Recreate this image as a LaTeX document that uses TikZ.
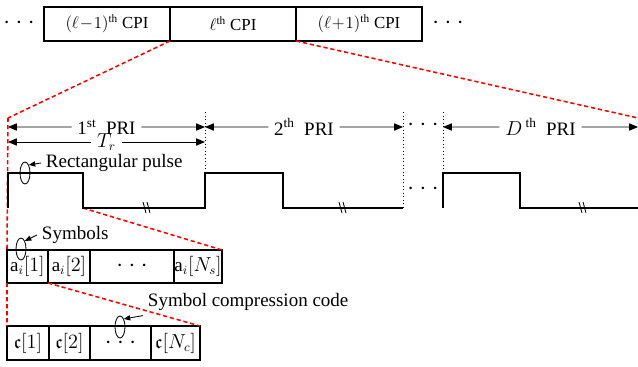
\documentclass[tikz,border=0pt]{standalone}
\usepackage{amsmath,amssymb}
\usepackage{fontspec}
\setmainfont{Liberation Serif}
\usepackage{tikz}
\usetikzlibrary{positioning,calc}
\usetikzlibrary{arrows.meta,shapes.geometric}
\newcommand{\dotrow}{{\fontsize{16}{16}\selectfont$\cdot$\hspace{4pt}$\cdot$\hspace{4pt}$\cdot$}}
\tikzset{
	cpibox/.style={draw=black,line width=1.2pt,outer sep=0pt,minimum width=3.15cm,minimum height=0.85cm,inner sep=0pt,font=\fontsize{12}{14}\selectfont},
	cell/.style={draw=black,line width=1.2pt,outer sep=0pt,inner sep=0pt},
	wave/.style={draw=black,line width=1.4pt},
	zoomline/.style={draw=red,line width=1.1pt,dash pattern=on 3pt off 2pt},
	halfspan/.style={draw=black,line width=0.6pt,-{Triangle[length=2.2mm,width=1.8mm]}},
	spanlbl/.style={inner xsep=4pt,inner ysep=0pt},
	guide/.style={draw=black,line width=0.5pt,dotted},
	ring/.style={ellipse,draw=black,line width=0.6pt,minimum width=0.25cm,minimum height=0.55cm,inner sep=0pt},
	pointer/.style={draw=black,line width=0.6pt,-{Triangle[length=1.6mm,width=1.3mm]}},
}

\begin{document}
\begin{tikzpicture}[x=0.025cm,y=-0.025cm,font=\fontsize{13.5}{15}\selectfont]
	\useasboundingbox (0,0) rectangle (638,367);
	\node[cpibox] (cpiA) at (107,24) {$(\ell\!-\!1)^{\mathrm{th}}$ CPI};
	\node[cpibox] (cpiB) at (233,24) {$\ell^{\mathrm{th}}$ CPI};
	\node[cpibox] (cpiC) at (359,24) {$(\ell\!+\!1)^{\mathrm{th}}$ CPI};
	\node (dotsL) at (19,23) {\dotrow};
	\node (dotsR) at (448,23) {\dotrow};
	\coordinate (s0) at (8,118);
	\coordinate (e0) at (638,118);
	\foreach \n/\x in {p0/8,p1/205,p2/403,p3/443,p4/638}
	\coordinate (\n) at (\x,127);
	\coordinate (t0) at (8,142);
	\coordinate (t1) at (205,142);
	\coordinate (fall1) at (83,208);
	\node[spanlbl] (priA) at ($(p0)!0.5!(p1)$) {1\textsuperscript{st}\ \ PRI};
	\node[spanlbl] (priB) at ($(p1)!0.5!(p2)$) {2\textsuperscript{th}\ \ PRI};
	\node[spanlbl] (priD) at ($(p3)!0.5!(p4)$) {$D$\,\textsuperscript{th}\ \ PRI};
	\node[spanlbl] (tr) at ($(t0)!0.5!(t1)$) {$T_r$};
	\foreach \l/\a/\b in {priA/p0/p1,priB/p1/p2,priD/p3/p4,tr/t0/t1}{
		\draw[halfspan] (\l) -- (\a);
		\draw[halfspan] (\l) -- (\b);
	}
	\node (dotsP) at (423,125) {\dotrow};
	\node (dotsW) at (423,189) {\dotrow};
	\foreach \x/\y in {205/173,403/208,443/173}
	\draw[guide] (\x,112) -- (\x,\y);
	\node[cell,minimum width=1.025cm,minimum height=0.825cm] (symA) at (27.5,266.5) {$\mathrm{a}_i[1]$};
	\node[cell,minimum width=1.05cm,minimum height=0.825cm,right=0pt of symA] (symB) {$\mathrm{a}_i[2]$};
	\node[cell,minimum width=2.1cm,minimum height=0.825cm,right=0pt of symB] (symC) {\dotrow};
	\node[cell,minimum width=1.2cm,minimum height=0.825cm,right=0pt of symC] (symD) {$\mathrm{a}_i[N_s]$};
	\node[cell,minimum width=1.05cm,minimum height=0.85cm] (cA) at (28,343) {$\mathfrak{c}[1]$};
	\node[cell,minimum width=1.025cm,minimum height=0.85cm,right=0pt of cA] (cB) {$\mathfrak{c}[2]$};
	\node[cell,minimum width=1.525cm,minimum height=0.85cm,right=0pt of cB] (cC) {\dotrow};
	\node[cell,minimum width=1.225cm,minimum height=0.85cm,right=0pt of cC] (cD) {$\mathfrak{c}[N_c]$};
	\draw[zoomline] (cpiB.south west) -- (s0);
	\draw[zoomline] (cpiB.south east) -- (e0);
	\draw[zoomline] (s0) -- (symA.north west);
	\draw[zoomline] (fall1) -- (symD.north east);
	\draw[zoomline] (symA.south west) -- (cA.north west);
	\draw[zoomline] (symA.south east) -- (cD.north east);
	\draw[wave] (8,208) -- (8,173) -- (83,173) -- (fall1) -- (205,208) -- (205,173) -- (283,173) -- (283,208) -- (403,208);
	\draw[wave] (443,208) -- (443,173) -- (520,173) -- (520,208) -- (638,208);
	\foreach \x in {147,343,583}{
		\draw[line width=0.6pt] (\x-4,202) -- (\x-1,213);
		\draw[line width=0.6pt] (\x,202) -- (\x+3,213);
	}
	\node[ring] (pulsering) at (25,173) {};
	\node[anchor=west] (pulselbl) at (41,163) {Rectangular pulse};
	\draw[pointer] (pulselbl.west) -- (pulsering.north east);
	\node[ring] (symring) at (21,249) {};
	\node[anchor=west] (symlbl) at (37,235) {Symbols};
	\node[ring] (codering) at (120,327) {};
	\node[anchor=west] (codelbl) at (143,302) {Symbol compression code};
	\draw[pointer] (symlbl.west) -- (symring.north east);
	\draw[pointer] (codelbl.south west) -- (codering.north east);
\end{tikzpicture}
\end{document}
